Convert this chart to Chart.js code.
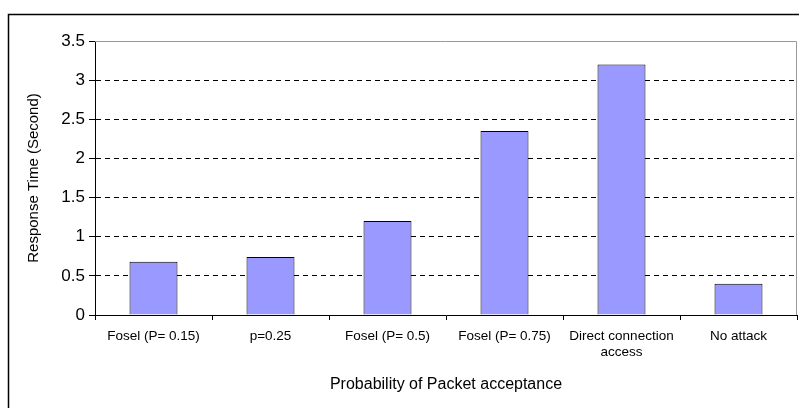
<!DOCTYPE html>
<html>
<head>
<meta charset="utf-8">
<script src="https://cdn.jsdelivr.net/npm/chart.js@4/dist/chart.umd.min.js"></script>
<style>
  html, body { margin: 0; padding: 0; background: #fff; }
  #wrap { width: 799px; height: 408px; position: relative; }
</style>
</head>
<body>
<div id="wrap"><canvas id="chart"></canvas></div>
<script>
// data
var categories = ['Fosel (P= 0.15)', 'p=0.25', 'Fosel (P= 0.5)', 'Fosel (P= 0.75)', ['Direct connection', 'access'], 'No attack'];
var responseTimes = [0.68, 0.74, 1.2, 2.35, 3.2, 0.4];
var yMax = 3.5;
var yStep = 0.5;

var font = 'Liberation Sans, Arial, sans-serif';

// outer frame + grey plot border (top and right)
var frame = {
  id: 'frame',
  beforeDraw: function(chart) {
    var c = chart.ctx;
    c.save();
    c.fillStyle = '#fff';
    c.fillRect(0, 0, chart.width, chart.height);
    c.strokeStyle = '#000';
    c.lineWidth = 1.5;
    c.strokeRect(8.5, 14.5, chart.width + 20, chart.height + 20);
    c.restore();
  },
  afterDatasetsDraw: function(chart) {
    var a = chart.chartArea, c = chart.ctx;
    c.save();
    c.strokeStyle = '#999';
    c.lineWidth = 1;
    c.beginPath();
    c.moveTo(a.left, a.top + 0.5);
    c.lineTo(a.right - 0.5, a.top + 0.5);
    c.lineTo(a.right - 0.5, a.bottom);
    c.stroke();
    c.restore();
  }
};

new Chart(document.getElementById('chart'), {
  type: 'bar',
  data: {
    labels: categories,
    datasets: [{
      data: responseTimes,
      backgroundColor: '#9999ff',
      borderColor: '#000',
      borderWidth: 1,
      barPercentage: 1,
      categoryPercentage: 0.41
    }]
  },
  options: {
    responsive: true,
    maintainAspectRatio: false,
    animation: false,
    layout: { padding: { top: 41, right: 2, left: 21, bottom: 10 } },
    plugins: { legend: { display: false }, tooltip: { enabled: false } },
    scales: {
      x: {
        afterFit: function(s) { s.height = 83; },
        grid: { display: true, offset: true, drawOnChartArea: false, tickLength: 5, tickColor: '#000', lineWidth: 1 },
        border: { color: '#000', width: 1 },
        ticks: { color: '#000', font: { family: font, size: 13.5 }, padding: 8, maxRotation: 0, autoSkip: false },
        title: { display: true, text: 'Probability of Packet acceptance', color: '#000', font: { family: font, size: 16 }, padding: { top: 4, bottom: 4 } }
      },
      y: {
        min: 0,
        max: yMax,
        afterFit: function(s) { s.width = 74; },
        grid: {
          color: function(ctx) {
            var v = ctx.tick ? ctx.tick.value : 0;
            return (v === 0 || v === yMax) ? 'rgba(0,0,0,0)' : '#000';
          },
          tickBorderDash: [],
          tickColor: '#000',
          tickLength: 6,
          lineWidth: 1
        },
        border: { color: '#000', width: 1, dash: [5, 4] },
        ticks: {
          stepSize: yStep,
          color: '#000',
          font: { family: font, size: 17 },
          padding: 4,
          callback: function(v) { return String(v); }
        },
        title: { display: true, text: 'Response Time (Second)', color: '#000', font: { family: font, size: 15 }, padding: { top: 4, bottom: 4 } }
      }
    }
  },
  plugins: [frame]
});
</script>
</body>
</html>
